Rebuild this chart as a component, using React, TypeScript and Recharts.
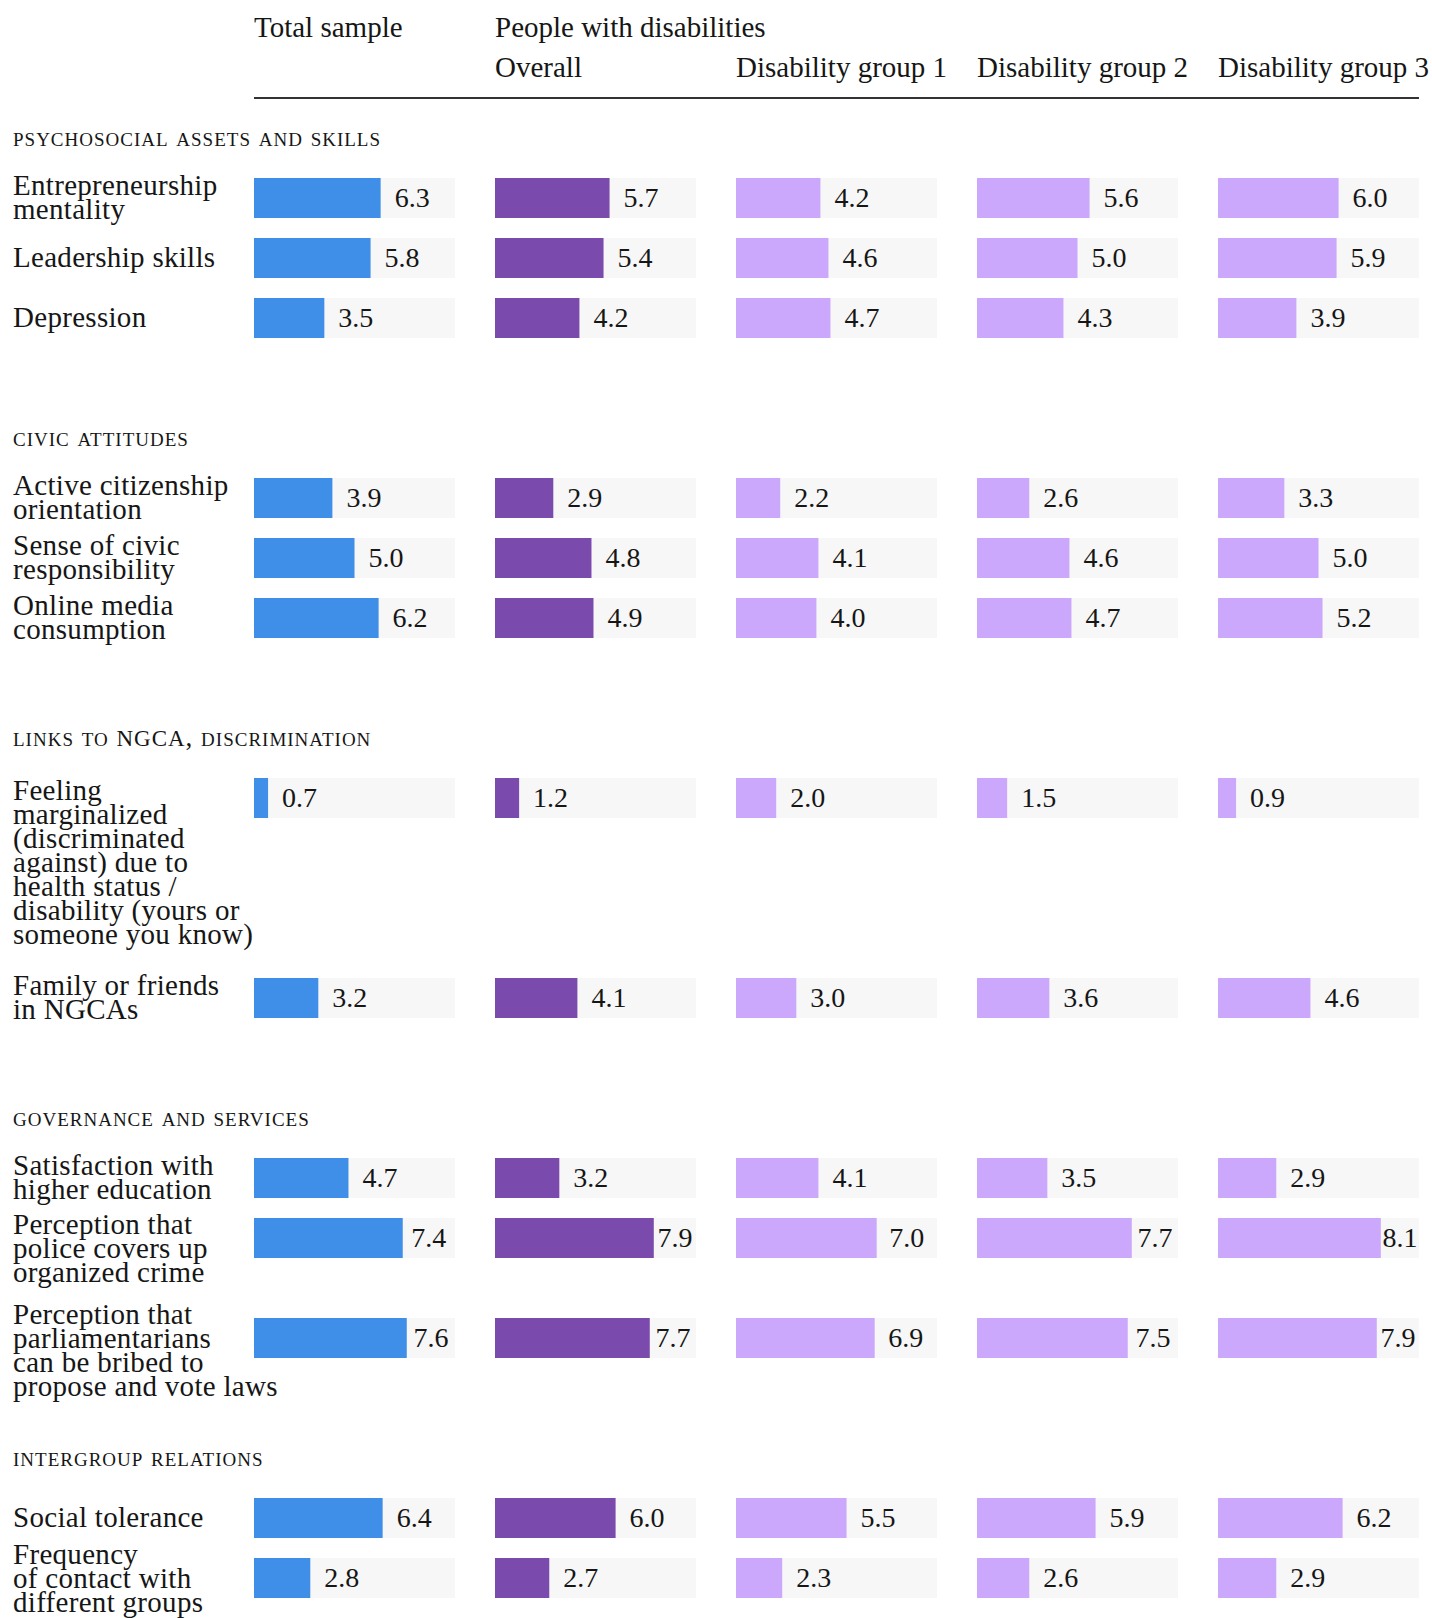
import { Bar, BarChart, LabelList, XAxis, YAxis } from "recharts";

const sections = [
  "psychosocial assets and skills",
  "civic attitudes",
  "links to NGCA, discrimination",
  "governance and services",
  "intergroup relations",
];

const rowSection = [0, 0, 0, 1, 1, 1, 2, 2, 3, 3, 3, 4, 4];

const rowLabels = [
  ["Entrepreneurship", "mentality"],
  ["Leadership skills"],
  ["Depression"],
  ["Active citizenship", "orientation"],
  ["Sense of civic", "responsibility"],
  ["Online media", "consumption"],
  [
    "Feeling",
    "marginalized",
    "(discriminated",
    "against) due to",
    "health status /",
    "disability (yours or",
    "someone you know)",
  ],
  ["Family or friends", "in NGCAs"],
  ["Satisfaction with", "higher education"],
  ["Perception that", "police covers up", "organized crime"],
  ["Perception that", "parliamentarians", "can be bribed to", "propose and vote laws"],
  ["Social tolerance"],
  ["Frequency", "of contact with", "different groups"],
];

const columnTitles = ["Total sample", "Overall", "Disability group 1", "Disability group 2", "Disability group 3"];
const groupTitle = "People with disabilities";

const totalSample = [6.3, 5.8, 3.5, 3.9, 5.0, 6.2, 0.7, 3.2, 4.7, 7.4, 7.6, 6.4, 2.8];
const overall = [5.7, 5.4, 4.2, 2.9, 4.8, 4.9, 1.2, 4.1, 3.2, 7.9, 7.7, 6.0, 2.7];
const group1 = [4.2, 4.6, 4.7, 2.2, 4.1, 4.0, 2.0, 3.0, 4.1, 7.0, 6.9, 5.5, 2.3];
const group2 = [5.6, 5.0, 4.3, 2.6, 4.6, 4.7, 1.5, 3.6, 3.5, 7.7, 7.5, 5.9, 2.6];
const group3 = [6.0, 5.9, 3.9, 3.3, 5.0, 5.2, 0.9, 4.6, 2.9, 8.1, 7.9, 6.2, 2.9];

const FONT = "'Liberation Serif', 'Times New Roman', serif";
const INK = "#161616";
const BLUE = "#3f8ee8";
const PURPLE = "#7a4aac";
const LILAC = "#cca8fc";
const TRACK = "#f7f7f7";

const COL_X = [254, 495, 736, 977, 1218];
const COL_W = 201;
const BAR_H = 40;
// band must be a bit taller than the bar, otherwise recharts shrinks the bar to 90%
const BAND_PAD = 1;
const VAL_FS = 28;
const FS = 29;
const LINE_H = 24;
// baseline offset of a div with FS font and LINE_H line-height
const BASE_OFF = 21.8;

const rowStep = (lines: number) => (lines <= 2 ? 60 : 25 * lines + 25);

const renderValue = (props: any) => {
  const x = Number(props.x ?? props.viewBox?.x ?? 0);
  const y = Number(props.y ?? props.viewBox?.y ?? 0);
  const width = Number(props.width ?? props.viewBox?.width ?? 0);
  const height = Number(props.height ?? props.viewBox?.height ?? BAR_H);
  const text = Number(props.value).toFixed(1);
  const textW = (text.length - 1) * 0.5 * VAL_FS + 0.25 * VAL_FS;
  const end = x + width;
  const gap = Math.min(14, (COL_W - end - textW) / 2);
  return (
    <text x={end + gap} y={y + height / 2 + 9} fontSize={VAL_FS} fontFamily={FONT} fill={INK}>
      {text}
    </text>
  );
};

function ValueCell({ value, color }: { value: number; color: string }) {
  const data = [{ name: "v", value }];
  return (
    <BarChart
      width={COL_W}
      height={BAR_H + 2 * BAND_PAD}
      data={data}
      layout="vertical"
      margin={{ top: 0, right: 0, bottom: 0, left: 0 }}
      barCategoryGap={0}
    >
      <XAxis type="number" domain={[0, 10]} hide />
      <YAxis type="category" dataKey="name" hide />
      <Bar dataKey="value" fill={color} barSize={BAR_H} background={{ fill: TRACK }} isAnimationActive={false}>
        <LabelList dataKey="value" content={renderValue} />
      </Bar>
    </BarChart>
  );
}

function TextAt({ x, baseline, children, style }: { x: number; baseline: number; children: any; style?: any }) {
  return (
    <div
      style={{
        position: "absolute",
        left: x,
        top: baseline - BASE_OFF,
        fontSize: FS,
        letterSpacing: 0.3,
        lineHeight: `${LINE_H}px`,
        whiteSpace: "nowrap",
        color: INK,
        ...style,
      }}
    >
      {children}
    </div>
  );
}

// uppercase acronyms are shown a little smaller than full caps next to small caps
function SectionTitle({ text }: { text: string }) {
  const parts = text.split(/([A-Z]{2,})/);
  return (
    <>
      {parts.map((p, i) =>
        /^[A-Z]{2,}$/.test(p) ? (
          <span key={i} style={{ fontSize: 23 }}>
            {p}
          </span>
        ) : (
          <span key={i}>{p}</span>
        )
      )}
    </>
  );
}

export default function App() {
  const columns = [totalSample, overall, group1, group2, group3];
  const colors = [BLUE, PURPLE, LILAC, LILAC, LILAC];

  const titles: { text: string; baseline: number }[] = [];
  const rows: { index: number; top: number; last: boolean }[] = [];
  let cursor = 147;
  sections.forEach((s, si) => {
    titles.push({ text: s, baseline: cursor });
    let top = cursor + 31;
    const members = rowSection.map((r, i) => (r === si ? i : -1)).filter((i) => i >= 0);
    members.forEach((ri, k) => {
      rows.push({ index: ri, top, last: k === members.length - 1 });
      if (k < members.length - 1) top += rowStep(rowLabels[ri].length);
    });
    cursor = top + 149;
  });

  const firstBaseline = (n: number, top: number, last: boolean) => {
    if (n === 1) return top + 29;
    if (n === 2) return top + 17;
    if (last) return top + 6;
    return top + 16 + (n - 3) * 1.5;
  };

  const headerStyle = { letterSpacing: 0 };

  return (
    <div
      style={{
        position: "absolute",
        left: 0,
        top: 0,
        width: 1432,
        height: 1618,
        background: "#fff",
        fontFamily: FONT,
        color: INK,
        overflow: "hidden",
      }}
    >
      <TextAt x={COL_X[0]} baseline={37} style={headerStyle}>
        {columnTitles[0]}
      </TextAt>
      <TextAt x={COL_X[1]} baseline={37} style={headerStyle}>
        {groupTitle}
      </TextAt>
      {columnTitles.slice(1).map((t, i) => (
        <TextAt key={t} x={COL_X[i + 1]} baseline={77} style={headerStyle}>
          {t}
        </TextAt>
      ))}
      <div
        style={{
          position: "absolute",
          left: COL_X[0],
          top: 97,
          width: COL_X[4] + COL_W - COL_X[0],
          height: 1.5,
          background: "#333",
        }}
      />

      {titles.map((t) => (
        <TextAt
          key={t.text}
          x={13}
          baseline={t.baseline}
          style={{ fontVariant: "small-caps", letterSpacing: 1.0, fontSize: 27 }}
        >
          <SectionTitle text={t.text} />
        </TextAt>
      ))}

      {rows.map(({ index, top, last }) => {
        const lines = rowLabels[index];
        return (
          <div key={index}>
            <TextAt x={13} baseline={firstBaseline(lines.length, top, last)}>
              {lines.map((l) => (
                <div key={l}>{l}</div>
              ))}
            </TextAt>
            {columns.map((col, ci) => (
              <div key={ci} style={{ position: "absolute", left: COL_X[ci], top: top - BAND_PAD }}>
                <ValueCell value={col[index]} color={colors[ci]} />
              </div>
            ))}
          </div>
        );
      })}
    </div>
  );
}
